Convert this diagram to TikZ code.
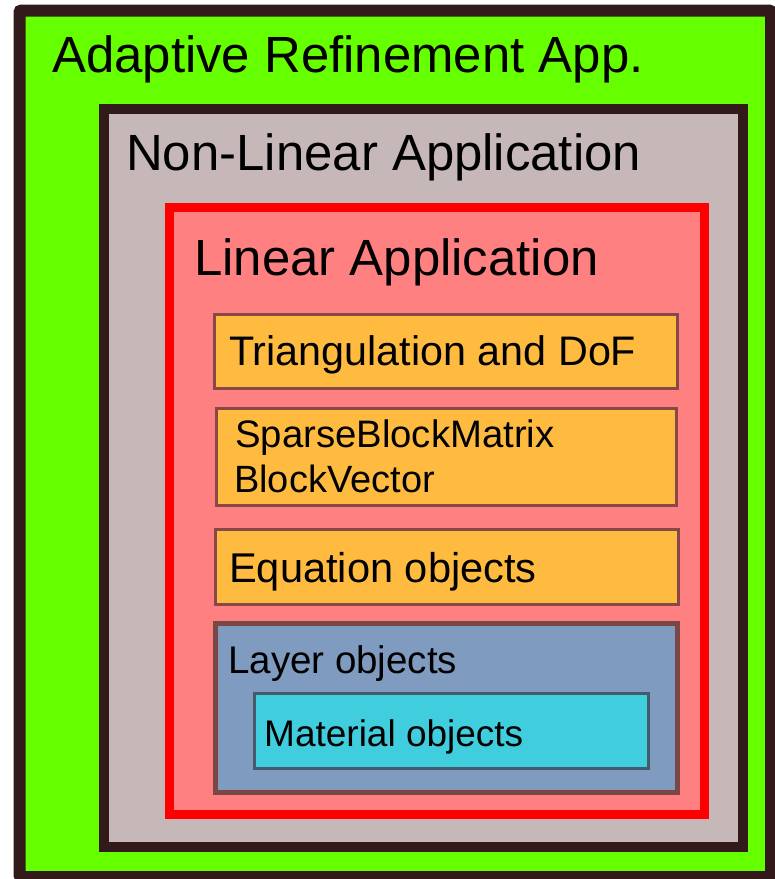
\documentclass[tikz,border=0pt]{standalone}
\usepackage{fontspec}
\setmainfont{Liberation Sans}
\definecolor{outerdark}{HTML}{331A1A}
\definecolor{appgreen}{HTML}{66FF00}
\definecolor{nlgray}{HTML}{C6B8B8}
\definecolor{linred}{HTML}{FF0000}
\definecolor{linpink}{HTML}{FF8080}
\definecolor{boxorange}{HTML}{FFBB3F}
\definecolor{boxbrown}{HTML}{884848}
\definecolor{layerblue}{HTML}{7F9BBF}
\definecolor{layerbrown}{HTML}{7A4747}
\definecolor{matcyan}{HTML}{40CDDD}
\definecolor{matborder}{HTML}{455A6A}
\tikzset{
  lbl/.style={anchor=base west, inner sep=0pt, text=black},
  orangebox/.style={draw=boxbrown, fill=boxorange, line width=3pt},
}
\begin{document}
\begin{tikzpicture}[x=1pt,y=-1pt]
\useasboundingbox (0,0) rectangle (775,879);
% outer
\draw[draw=outerdark, fill=appgreen, line width=12pt, rounded corners=2pt] (19.5,10.5) rectangle (771,877);
% non-linear
\draw[draw=outerdark, fill=nlgray, line width=10pt] (104,109) rectangle (743,847);
% linear
\draw[draw=linred, fill=linpink, line width=9pt] (169.5,207.5) rectangle (704.5,814.5);
% inner boxes
\draw[orangebox] (214.5,314.5) rectangle (677.5,388.5);
\draw[orangebox] (216.5,408.5) rectangle (676.5,505.5);
\draw[orangebox] (215.5,529.5) rectangle (678.5,604.5);
\draw[draw=layerbrown, fill=layerblue, line width=5pt] (215.5,623.5) rectangle (677.5,792.5);
\draw[draw=matborder, fill=matcyan, line width=3pt] (254.5,693.5) rectangle (648.5,768.5);
% labels
\node[lbl, font=\fontsize{50.9}{60}\selectfont] (tadapt) at (52,72) {Adaptive Refinement App.};
\node[lbl, font=\fontsize{50.9}{60}\selectfont] (tnonlin) at (126,170) {Non-Linear Application};
\node[lbl, font=\fontsize{50.9}{60}\selectfont] (tlin) at (194,275) {Linear Application};
\node[lbl, font=\fontsize{41.3}{48}\selectfont] (ttri) at (229,365) {Triangulation and DoF};
\node[lbl, font=\fontsize{38.3}{46}\selectfont] (tsparse) at (235,447) {SparseBlockMatrix};
\node[lbl, font=\fontsize{38}{46}\selectfont] (tblock) at (234,492) {BlockVector};
\node[lbl, font=\fontsize{41.6}{48}\selectfont] (teq) at (229,582) {Equation objects};
\node[lbl, font=\fontsize{38.5}{46}\selectfont] (tlayer) at (228,673) {Layer objects};
\node[lbl, font=\fontsize{37}{44}\selectfont] (tmat) at (264,746) {Material objects};
\end{tikzpicture}
\end{document}
